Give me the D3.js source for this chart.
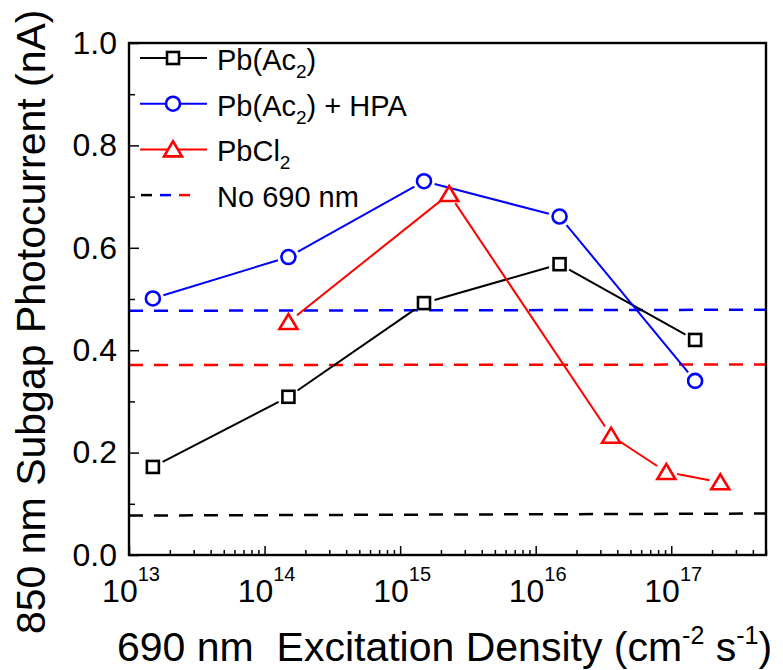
<!DOCTYPE html>
<html><head><meta charset="utf-8">
<script src="https://cdn.jsdelivr.net/npm/d3@7"></script>
<style>body{margin:0;background:#fff}svg{display:block}text{font-family:"Liberation Sans",Arial,sans-serif;fill:#000;white-space:pre}</style>
</head><body><svg id="c" width="783" height="670" xmlns="http://www.w3.org/2000/svg"></svg>
<script>
// ---- data ----
const pbAcX = [1.5e13, 1.5e14, 1.5e15, 1.5e16, 1.5e17];
const pbAcY = [0.172, 0.309, 0.492, 0.568, 0.420];
const hpaX = [1.5e13, 1.5e14, 1.5e15, 1.5e16, 1.5e17];
const hpaY = [0.501, 0.582, 0.730, 0.661, 0.340];
const pbcl2X = [1.5e14, 2.3e15, 3.6e16, 9.2e16, 2.3e17];
const pbcl2Y = [0.455, 0.705, 0.233, 0.162, 0.142];
const baseX = [1e13, 5e17];
const baseBlack = [0.077, 0.081];
const baseBlue = [0.477, 0.479];
const baseRed = [0.371, 0.372];
const yMajor = [0, 0.2, 0.4, 0.6, 0.8, 1.0];
const yMinor = [0.1, 0.3, 0.5, 0.7, 0.9];
const xExp = [13, 14, 15, 16, 17];
const legendNames = [["Pb(Ac", "2", ")"], ["Pb(Ac", "2", ") + HPA"], ["PbCl", "2", ""], ["No 690 nm", "", ""]];
const yTitle = "850 nm Subgap Photocurrent (nA)";

const BLACK = "#000000", BLUE = "#0000ff", RED = "#ff0000";
const svg = d3.select("#c");
const x = d3.scaleLog().domain([1e13, 5e17]).range([129, 766]);
const y = d3.scaleLinear().domain([0, 1]).range([555, 43]);

// minor x ticks
const xMinor = [];
for (let e = 13; e <= 17; e++) for (let m = 2; m <= 9; m++) { const v = m * Math.pow(10, e); if (v <= 5e17) xMinor.push(v); }
const xMajorVals = xExp.map(e => Math.pow(10, e));

function clean(g) { g.select(".domain").remove(); g.selectAll(".tick line").attr("stroke", "#000").attr("stroke-width", 1.5); }

svg.append("g").attr("transform", "translate(0,555)")
  .call(d3.axisBottom(x).tickValues(xMinor).tickSize(-5).tickFormat("")).call(clean);
svg.append("g").attr("transform", "translate(0,555)")
  .call(d3.axisBottom(x).tickValues(xMajorVals).tickSize(-9).tickFormat("")).call(clean);
svg.append("g").attr("transform", "translate(129,0)")
  .call(d3.axisLeft(y).tickValues(yMinor).tickSize(-6).tickFormat("")).call(clean);
const ya = svg.append("g").attr("transform", "translate(129,0)")
  .call(d3.axisLeft(y).tickValues(yMajor).tickSize(-10).tickPadding(12).tickFormat(d3.format(".1f"))).call(clean);
ya.selectAll("text").attr("font-size", 32).attr("font-family", '"Liberation Sans",Arial,sans-serif').attr("fill", "#000");

// x tick labels
xExp.forEach(e => {
  const t = svg.append("text").attr("x", x(Math.pow(10, e)) + 2).attr("y", 602).attr("text-anchor", "middle").attr("font-size", 32);
  t.append("tspan").text("10");
  t.append("tspan").attr("dy", -21).attr("font-size", 20).text(String(e));
});

// dashed baselines
const dashLine = d3.line().x(d => x(d[0])).y(d => y(d[1]));
[[baseBlack, BLACK], [baseBlue, BLUE], [baseRed, RED]].forEach(([vals, col]) => {
  svg.append("path").datum(baseX.map((v, i) => [v, vals[i]])).attr("d", dashLine)
    .attr("fill", "none").attr("stroke", col).attr("stroke-width", 2.5).attr("stroke-dasharray", "14,11");
});

// marker drawing
function marker(g, type, cx, cy, col) {
  if (type === "square") {
    g.append("rect").attr("x", cx - 6).attr("y", cy - 6).attr("width", 12).attr("height", 12)
      .attr("fill", "#fff").attr("stroke", col).attr("stroke-width", 2.6);
  } else if (type === "circle") {
    g.append("circle").attr("cx", cx).attr("cy", cy).attr("r", 7)
      .attr("fill", "#fff").attr("stroke", col).attr("stroke-width", 2.6);
  } else {
    g.append("path").attr("d", `M${cx - 9},${cy + 7}L${cx + 9},${cy + 7}L${cx},${cy - 8}Z`)
      .attr("fill", "#fff").attr("stroke", col).attr("stroke-width", 2.6).attr("stroke-linejoin", "miter");
  }
}
function gappedSegments(g, pts, col, gap) {
  for (let i = 0; i < pts.length - 1; i++) {
    const [x0, y0] = pts[i], [x1, y1] = pts[i + 1];
    const dx = x1 - x0, dy = y1 - y0, L = Math.hypot(dx, dy);
    const ux = dx / L, uy = dy / L;
    g.append("line").attr("x1", x0 + ux * gap).attr("y1", y0 + uy * gap)
      .attr("x2", x1 - ux * gap).attr("y2", y1 - uy * gap)
      .attr("stroke", col).attr("stroke-width", 2);
  }
}
const series = [
  { xs: pbAcX, ys: pbAcY, col: BLACK, type: "square" },
  { xs: pbcl2X, ys: pbcl2Y, col: RED, type: "triangle" },
  { xs: hpaX, ys: hpaY, col: BLUE, type: "circle" }
];
const lg = svg.append("g");
series.forEach(s => {
  const pts = s.xs.map((v, i) => [x(v), y(s.ys[i])]);
  gappedSegments(lg, pts, s.col, 11);
});
series.forEach(s => {
  s.xs.forEach((v, i) => marker(lg, s.type, x(v), y(s.ys[i]), s.col));
});

// legend
const legCols = [BLACK, BLUE, RED];
const legTypes = ["square", "circle", "triangle"];
legendNames.forEach((nm, i) => {
  const ly = 58 + i * 45.7;
  if (i < 3) {
    svg.append("line").attr("x1", 140).attr("x2", 207).attr("y1", ly).attr("y2", ly)
      .attr("stroke", legCols[i]).attr("stroke-width", 2);
    marker(svg, legTypes[i], 173, ly, legCols[i]);
  } else {
    [[141, BLACK], [160, BLUE], [179, RED]].forEach(([dx, c]) => {
      svg.append("line").attr("x1", dx).attr("x2", dx + 11).attr("y1", ly).attr("y2", ly)
        .attr("stroke", c).attr("stroke-width", 2.5);
    });
  }
  const t = svg.append("text").attr("x", 217).attr("y", ly + 12).attr("font-size", 29);
  t.append("tspan").text(nm[0]);
  if (nm[1]) {
    t.append("tspan").attr("dy", 8).attr("font-size", 19).text(nm[1]);
    t.append("tspan").attr("dy", -8).text(nm[2]);
  }
});

// axis titles
svg.append("text").attr("transform", "translate(45,634) rotate(-90)").attr("font-size", 41).text(yTitle);
const xt = svg.append("text").attr("x", 117).attr("y", 661).attr("font-size", 41);
xt.append("tspan").text("690 nm  Excitation Density (cm");
xt.append("tspan").attr("dy", -17).attr("font-size", 25).text("-2");
xt.append("tspan").attr("dy", 17).text(" s");
xt.append("tspan").attr("dy", -17).attr("font-size", 25).text("-1");
xt.append("tspan").attr("dy", 17).text(")");

// plot frame
const [fx0, fx1] = x.range(), [fy0, fy1] = y.range();
svg.append("rect").attr("x", fx0).attr("y", fy1).attr("width", fx1 - fx0).attr("height", fy0 - fy1)
  .attr("fill", "none").attr("stroke", "#000").attr("stroke-width", 2.4);
</script></body></html>
